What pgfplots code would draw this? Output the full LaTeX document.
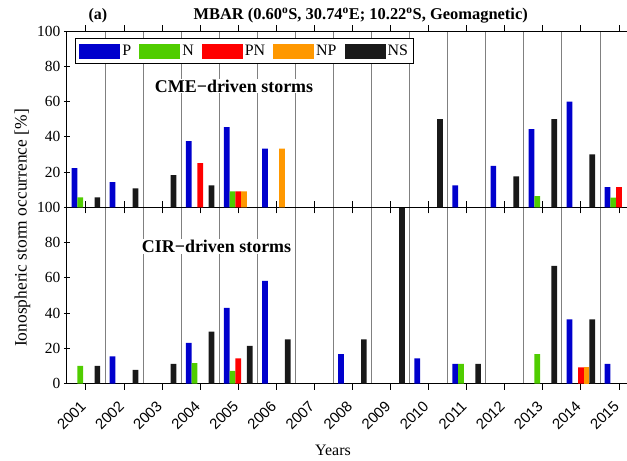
\documentclass[border=0pt]{standalone}
\usepackage{fontspec}
\setmainfont{Liberation Serif}
\setsansfont{Liberation Sans}
\usepackage{pgfplots}
\pgfplotsset{compat=1.18}

\definecolor{cP}{RGB}{0,0,205}
\definecolor{cN}{RGB}{80,205,0}
\definecolor{cPN}{RGB}{255,0,0}
\definecolor{cNP}{RGB}{255,152,0}
\definecolor{cNS}{RGB}{25,25,25}

% one panel = 15 years, gridlines between years, right end cropped
\pgfplotsset{
  panel/.style={
    scale only axis, width=560.1bp, height=176.2bp,
    xmin=0.5, xmax=15.21, ymin=0, ymax=100,
    axis x line*=box, axis y line*=left,
    axis line style={line width=1.1pt, black},
    xtick={1,...,15}, tick align=center,
    major tick length=6bp,
    tick style={line width=0.9pt, black},
    minor xtick={1.5,2.5,...,14.5},
    minor tick length=0pt,
    xminorgrids,
    minor grid style={black!50, line width=0.8pt},
    ybar=0pt, bar width=5.71bp,
    ytick={0,20,...,100},
    yticklabel style={font=\fontsize{15.5}{16}\selectfont},
    /pgf/number format/assume math mode=true,
  },
  bars/.style={fill=#1, draw=none},
}

\begin{document}
\begin{tikzpicture}

% CIR-driven (bottom)
\begin{axis}[panel, at={(0,0)}, anchor=south west,
  xticklabels={2001,2002,2003,2004,2005,2006,2007,2008,2009,2010,2011,2012,2013,2014,2015},
  xticklabel style={font=\sffamily\fontsize{15}{15}\selectfont, xshift=-2.6bp, yshift=-14bp,
    rotate=45, anchor=east, inner sep=0pt},
]
\addplot[bars=cP]  coordinates {(2,15.4) (4,23.1) (5,42.9) (6,58.3) (8,16.7) (10,14.3) (11,11.1) (14,36.4) (15,11.1)};
\addplot[bars=cN]  coordinates {(1,10) (4,11.5) (5,7.1) (11,11.1) (13,16.7)};
\addplot[bars=cPN] coordinates {(5,14.3) (14,9.1)};
\addplot[bars=cNP] coordinates {(14,9.1)};
\addplot[bars=cNS] coordinates {(1,10) (2,7.7) (3,11.1) (4,29.4) (5,21.4) (6,25) (8,25) (9,100) (11,11.1) (13,66.7) (14,36.4)};
\node[fill=white, inner sep=1pt, font=\bfseries\fontsize{18}{20}\selectfont] at (axis cs:4.43,77.6) {CIR−driven storms};
\end{axis}

% CME-driven (top)
\begin{axis}[panel, at={(0,176.2bp)}, anchor=south west,
  ytick={20,40,...,100}, xticklabels={},
  legend columns=5,
  legend style={at={(0.0143,0.96)}, anchor=north west, draw=black, line width=1.1pt,
    font=\fontsize{16}{18}\selectfont, inner xsep=4bp, inner ysep=4.5bp,
    /tikz/every even column/.append style={column sep=6bp}},
  legend image code/.code={\fill[#1] (0bp,-7.5bp) rectangle (41bp,7.5bp);},
]
\addplot[bars=cP]  coordinates {(1,22.2) (2,14.3) (4,37.5) (5,45.5) (6,33.3) (11,12.5) (12,23.5) (13,44.4) (14,60) (15,11.5)};
\addplot[bars=cN]  coordinates {(1,5.6) (5,9.1) (13,6.3) (15,5.5)};
\addplot[bars=cPN] coordinates {(4,25) (5,9.1) (15,11.5)};
\addplot[bars=cNP] coordinates {(5,9.1) (6,33.3)};
\addplot[bars=cNS] coordinates {(1,5.6) (2,10.7) (3,18.2) (4,12.5) (10,50) (12,17.6) (13,50) (14,30)};
\legend{P,N,PN,NP,NS}
\node[fill=white, inner sep=1pt, font=\bfseries\fontsize{18}{20}\selectfont] at (axis cs:4.89,68.8) {CME−driven storms};
\end{axis}

\node[anchor=base west, font=\bfseries\fontsize{16}{18}\selectfont] at (18.1bp,364bp) {(a)};
\node[anchor=base west, font=\bfseries\fontsize{16.5}{18}\selectfont] at (123.1bp,364bp)
  {MBAR (0.60\textsuperscript{o}S, 30.74\textsuperscript{o}E; 10.22\textsuperscript{o}S, Geomagnetic)};
\node[rotate=90, font=\fontsize{17.5}{19}\selectfont] at (-44.4bp,155.5bp) {Ionospheric storm occurrence [\%]};
\node[font=\fontsize{16}{18}\selectfont] at (266.1bp,-66.5bp) {Years};

\pgfresetboundingbox
\path[use as bounding box] (-66.9bp,-77.5bp) rectangle (560.1bp,383.5bp);
\end{tikzpicture}
\end{document}
